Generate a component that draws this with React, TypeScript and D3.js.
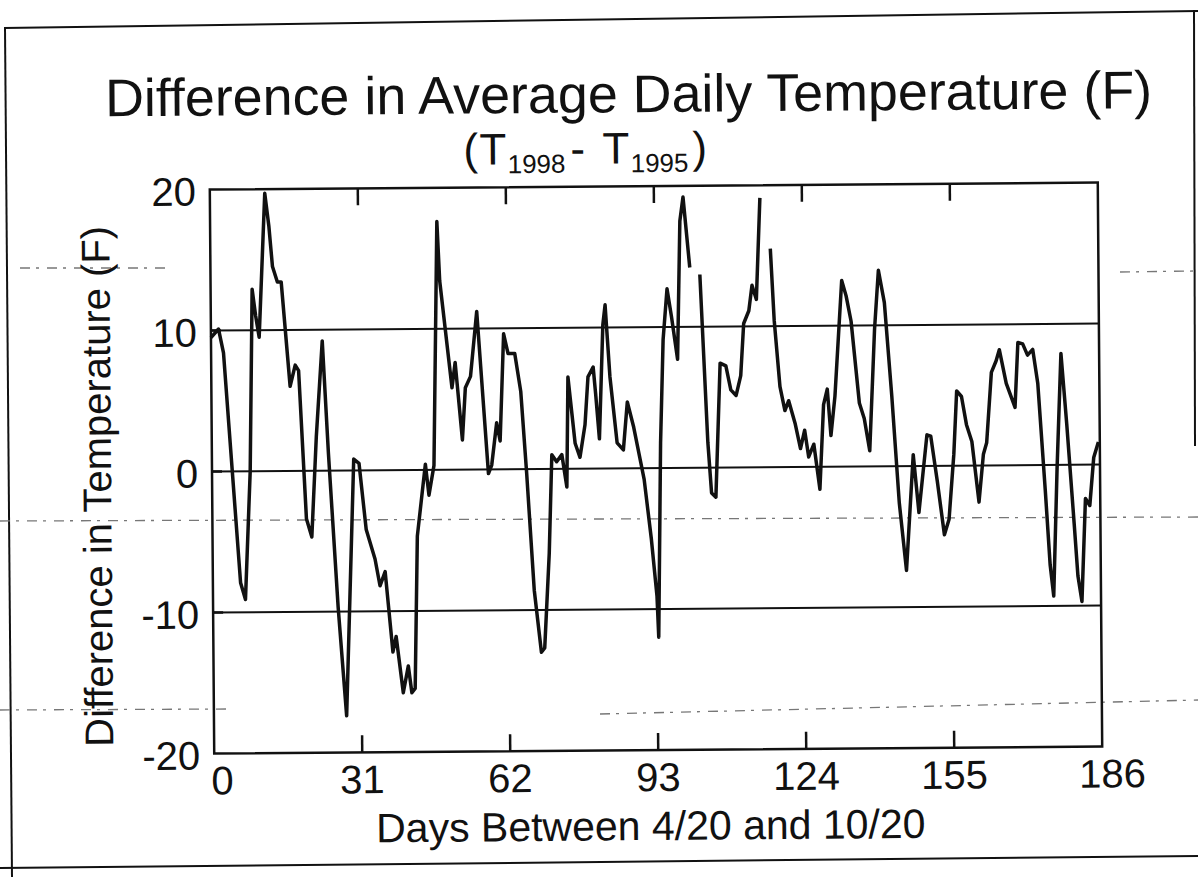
import * as d3 from "d3";
import React from "react";

// readings (day, T1998 - T1995 in F); null marks a gap in the trace
const days = [
  0, 1.6, 2.6, 5.8, 6.8, 8, 8.7, 9.4, 10.1, 11.5, 12.3, 13, 14, 14.8, 16.5, 17.6, 18.3, 19.7, 20.8, 21.9,
  23.3, 24.4, 26.2, 27.8, 29.7, 30.8, 32.2, 34, 35, 36.1, 37.6, 38.3, 39.7, 40.8, 41.5, 42.2, 42.9, 44.7,
  45.4, 46.5, 47.5, 48, 50.4, 51.1, 52.5, 53.2, 54.3, 55.7, 57.9, 58.6, 59.7, 60.4, 61.3, 62.2, 63.6, 64.8,
  65.9, 67.3, 68.7, 69.4, 70.5, 71.2, 72.2, 73.3, 74.3, 74.7, 76.1, 77.1, 78.2, 78.9, 80, 80.5, 81.2, 82.1,
  82.6, 83.5, 84.9, 86.2, 87.1, 88.4, 90.5, 91.9, 93, 93.3, 94, 94.7, 95.6, 96.5, 97.7, 98.4, 99.1, 100.4,
  101.5,
  102.5, 103.9, 104.6, 105.5, 106.6, 107.8, 108.8, 109.9, 110.9, 111.6, 112.7, 113.4, 114.3, 115.2,
  116.3,
  117.3, 118, 119.1, 120.1, 120.9, 122.2, 123.3, 124.2, 125, 126.1, 127.3, 128.2, 129, 129.7, 130.6, 132.2,
  133.1, 134.1, 135.7, 136.7, 137.8, 139, 139.9, 141.1, 142.5, 143.9, 145.3, 146.9, 148, 149.8, 150.6,
  151.9, 153.3, 154.3, 155.4, 156.1, 157.1, 158.1, 159.2, 160.6, 161.6, 162.3, 163.4, 164.4, 165.1, 166.5,
  168.3, 169, 170, 171, 172.1, 173.1, 174.5, 175.4, 176.1, 177, 178, 179.1, 180.5, 181.2, 182, 182.9,
  183.8, 184.7, 185.7,
];
const tempDiff: (number | null)[] = [
  9.5, 10.1, 8.4, -7.9, -9.1, 0, 12.9, 11, 9.5, 19.7, 17.4, 14.5, 13.4, 13.4, 6, 7.5, 7.1, -3.4, -4.7, 2.4,
  9.2, 1.3, -9.7, -17.4, 0.8, 0.5, -4.2, -6.3, -8.2, -7.2, -12.9, -11.8, -15.8, -13.9, -15.8, -15.5, -4.7, 0.4,
  -1.8, 0.3, 17.6, 13.4, 5.8, 7.6, 2.1, 5.8, 6.6, 11.2, -0.3, 0.3, 3.3, 2, 9.6, 8.2, 8.2, 5.5,
  -0.3, -8.6, -13, -12.7, -6, 1, 0.5, 1, -1.3, 6.5, 1.8, 0.8, 3.1, 6.5, 7.2, 5.2, 2.1, 10.2,
  11.6, 6.5, 1.8, 1.3, 4.7, 2.9, -0.8, -5, -9.1, -12, 1.8, 9.1, 12.7, 10.7, 7.7, 17.5, 19.2, 14.2,
  null,
  13.7, 1.8, -1.8, -2.1, 7.4, 7.2, 5.5, 5.1, 6.5, 10.2, 11.1, 12.9, 11.9, 19.1,
  null,
  15.5, 10.4, 5.7, 4.0, 4.7, 3.1, 1.3, 2.6, 0.7, 1.6, -1.6, 4.4, 5.5, 2.2, 5, 13.2,
  12.1, 10.3, 4.5, 3.4, 1.1, 9.7, 13.9, 11.6, 5, -2.6, -7.4, 0.8, -3.3, 2.2, 2.1,
  -1.1, -4.9, -3.8, 0.8, 5.3, 4.9, 2.9, 1.7, -2.6, 0.8, 1.6, 6.6, 7.4, 8.2, 5.8,
  4.1, 8.7, 8.6, 7.8, 8.2, 5.8, -1.8, -7.1, -9.3, -0.3, 7.9, 2.9, -4.2, -7.9, -9.7, -2.4,
  -2.9, 0.5, 1.6,
];

const xTicks = [0, 31, 62, 93, 124, 155, 186];
const yTicks = [-20, -10, 0, 10, 20];
const gridLevels = [-10, 0, 10];

const W = 1198;
const H = 877;
const margin = { top: 186, right: 98, bottom: 127, left: 212 };
const FONT = "'Liberation Sans', Arial, Helvetica, sans-serif";

export default function App() {
  const innerW = W - margin.left - margin.right;
  const innerH = H - margin.top - margin.bottom;

  const x = d3.scaleLinear().domain([0, 186]).range([0, innerW]);
  const y = d3.scaleLinear().domain([-20, 20]).range([innerH, 0]);

  const pts = days.map((d, i) => ({ day: d, v: tempDiff[i] }));
  const line = d3
    .line<{ day: number; v: number | null }>()
    .defined((d) => d.v != null)
    .x((d) => x(d.day))
    .y((d) => y(d.v as number));

  const tickLen = 17;
  const cx = margin.left + innerW / 2;
  const cy = margin.top + innerH / 2;

  return (
    <svg
      width={W}
      height={H}
      style={{ position: "absolute", left: 0, top: 0, background: "#fff" }}
      fontFamily={FONT}
    >
      <rect width={W} height={H} fill="#fff" />

      {/* page frame of the scan */}
      <g stroke="#111" strokeWidth={2} fill="none">
        <line x1={4} y1={28} x2={1198} y2={11} />
        <line x1={5} y1={28} x2={12} y2={877} />
        <line x1={0} y1={868} x2={1198} y2={856} />
        <line x1={1194} y1={10} x2={1195} y2={446} />
      </g>
      <g stroke="#777" strokeWidth={1.3} fill="none" strokeDasharray="10 6 3 8">
        <line x1={0} y1={521} x2={1198} y2={517} />
        <line x1={0} y1={710} x2={230} y2={709} />
        <line x1={600} y1={714} x2={1198} y2={700} />
        <line x1={20} y1={268} x2={170} y2={268} />
        <line x1={1120} y1={272} x2={1194} y2={271} />
      </g>

      <g transform={`rotate(-0.45, ${cx}, ${cy})`}>
        <text x={108} y={112} fontSize={53} textLength={1047} lengthAdjust="spacingAndGlyphs" fill="#111">
          Difference in Average Daily Temperature (F)
        </text>
        <text y={163} fontSize={44} fill="#111">
          <tspan x={466}>(</tspan>
          <tspan x={482}>T</tspan>
          <tspan x={510} dy={9} fontSize={26}>1998</tspan>
          <tspan x={573} dy={-9}>-</tspan>
          <tspan x={605}>T</tspan>
          <tspan x={633} dy={9} fontSize={26}>1995</tspan>
          <tspan x={695} dy={-9}>)</tspan>
        </text>

        <g transform={`translate(${margin.left},${margin.top})`}>
          {gridLevels.map((g) => (
            <line key={g} x1={0} x2={innerW} y1={y(g)} y2={y(g)} stroke="#111" strokeWidth={2} />
          ))}
          {xTicks.slice(1, -1).map((t) => (
            <g key={t}>
              <line x1={x(t)} x2={x(t)} y1={0} y2={tickLen} stroke="#111" strokeWidth={2.5} />
              <line x1={x(t)} x2={x(t)} y1={innerH} y2={innerH - tickLen} stroke="#111" strokeWidth={2.5} />
            </g>
          ))}
          {gridLevels.map((g) => (
            <line key={"yt" + g} x1={0} x2={10} y1={y(g)} y2={y(g)} stroke="#111" strokeWidth={2.5} />
          ))}

          <path d={line(pts) ?? ""} fill="none" stroke="#111" strokeWidth={3.5} strokeLinejoin="round" />

          <rect x={0} y={0} width={innerW} height={innerH} fill="none" stroke="#111" strokeWidth={2.5} />

          {yTicks.map((t) => (
            <text key={t} x={-14} y={y(t) + 16} textAnchor="end" fontSize={40} fill="#111">
              {t}
            </text>
          ))}
          {xTicks.map((t) => (
            <text
              key={t}
              x={x(t) + (t === 0 ? 8 : t === 186 ? 10 : 0)}
              y={innerH + 41}
              textAnchor="middle"
              fontSize={40}
              fill="#111"
            >
              {t}
            </text>
          ))}
        </g>

        <text x={648} y={840} textAnchor="middle" fontSize={41} fill="#111">
          Days Between 4/20 and 10/20
        </text>
        <text
          transform={`translate(111, ${margin.top + innerH / 2 + 14}) rotate(-90)`}
          textAnchor="middle"
          fontSize={40}
          fill="#111"
        >
          Difference in Temperature (F)
        </text>
      </g>
    </svg>
  );
}
